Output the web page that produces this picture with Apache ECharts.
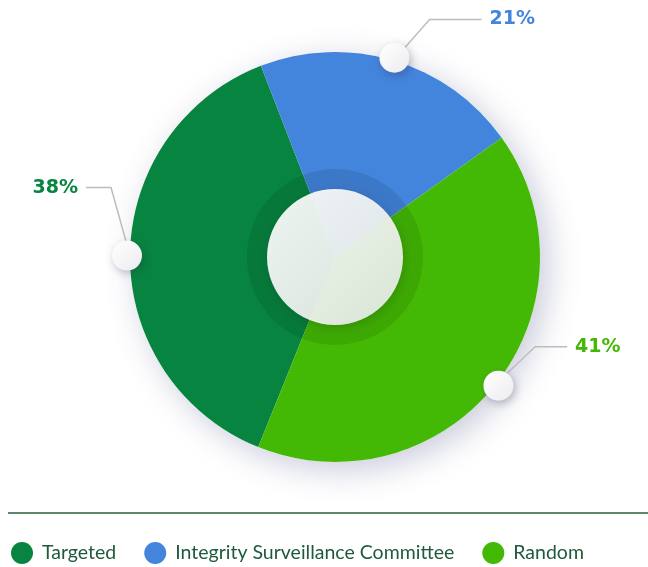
<!DOCTYPE html>
<html>
<head>
<meta charset="utf-8">
<script src="https://cdn.jsdelivr.net/npm/echarts@6/dist/echarts.min.js"></script>
<style>
  html, body { margin: 0; padding: 0; background: #fff; }
  #chart { width: 648px; height: 567px; }
</style>
</head>
<body>
<div id="chart"></div>
<script>
// 数据
var categories = ['Targeted', 'Integrity Surveillance Committee', 'Random']
var shares = [38, 21, 41]
var colors = ['#07843f', '#4384dc', '#44b905']

var center = [335, 257]
var startAngle = 248
// 引线走向（相对圆点的折点偏移 + 水平段长度）
var leaderBend = [[-19, -68], [36, -41], [39, -37]]
var leaderRun = [-25, 52, 32]

var chart = echarts.init(document.getElementById('chart'))

var mainData = categories.map(function (name, i) {
  return { name: name, value: shares[i], itemStyle: { color: colors[i] }, label: { color: colors[i] } }
})
var dotData = categories.map(function (name, i) {
  return { name: name, value: shares[i] }
})

var option = {
  animation: false,
  legend: {
    data: categories,
    left: 6,
    top: 537,
    icon: 'circle',
    itemWidth: 22,
    itemHeight: 22,
    itemGap: 28,
    selectedMode: false,
    textStyle: {
      fontFamily: 'Lato',
      fontSize: 19.5,
      color: '#1f5a3a',
      padding: [0, 0, 0, 4]
    }
  },
  graphic: [{
    type: 'line',
    shape: { x1: 8, y1: 513, x2: 648, y2: 513 },
    style: { stroke: '#2a5c3e', lineWidth: 1.5 },
    silent: true
  }],
  series: [
    { // 背景阴影
      type: 'pie',
      center: center,
      radius: 205,
      silent: true,
      z: 1,
      label: { show: false },
      labelLine: { show: false },
      itemStyle: {
        color: '#fff',
        shadowBlur: 32,
        shadowColor: 'rgba(60,70,125,0.28)',
        shadowOffsetX: 8,
        shadowOffsetY: 8
      },
      data: [{ value: 1, name: '' }]
    },
    {
      name: 'share',
      type: 'pie',
      center: center,
      radius: 205,
      startAngle: startAngle,
      clockwise: true,
      z: 2,
      silent: true,
      itemStyle: { borderWidth: 0 },
      label: {
        show: true,
        position: 'outside',
        overflow: 'none',
        formatter: function (p) { return p.value + '%' },
        fontFamily: 'DejaVu Sans',
        fontWeight: 'bold',
        fontSize: 19
      },
      labelLine: {
        show: true,
        length: 40,
        length2: 40,
        lineStyle: { color: '#bdbdbd', width: 1.5 }
      },
      labelLayout: function (p) {
        var i = p.dataIndex
        var s = p.labelLinePoints[0]
        var b = [s[0] + leaderBend[i][0], s[1] + leaderBend[i][1]]
        var e = [b[0] + leaderRun[i], b[1]]
        var left = leaderRun[i] < 0
        return {
          x: e[0] + (left ? -8 : 8),
          y: e[1],
          align: left ? 'right' : 'left',
          verticalAlign: 'middle',
          labelLinePoints: [s, b, e]
        }
      },
      data: mainData
    },
    { // 内圈暗环
      type: 'pie',
      center: center,
      radius: 88,
      silent: true,
      z: 3,
      label: { show: false },
      labelLine: { show: false },
      itemStyle: { color: 'rgba(0,0,0,0.09)' },
      data: [{ value: 1, name: '' }]
    },
    { // 中心圆
      type: 'pie',
      center: center,
      radius: 68,
      silent: true,
      z: 4,
      label: { show: false },
      labelLine: { show: false },
      itemStyle: {
        color: {
          type: 'linear', x: 0, y: 0, x2: 1, y2: 1,
          colorStops: [
            { offset: 0, color: 'rgba(252,253,252,0.94)' },
            { offset: 1, color: 'rgba(232,236,232,0.92)' }
          ]
        },
        shadowBlur: 10,
        shadowColor: 'rgba(0,0,0,0.15)',
        shadowOffsetX: 2,
        shadowOffsetY: 3
      },
      data: [{ value: 1, name: '' }]
    },
    { // 圆点
      type: 'pie',
      center: center,
      radius: [200, 210],
      startAngle: startAngle,
      clockwise: true,
      silent: true,
      z: 5,
      itemStyle: { color: 'rgba(0,0,0,0)' },
      label: {
        show: true,
        position: 'inside',
        formatter: '{dot|}',
        rich: {
          dot: {
            width: 30,
            height: 30,
            borderRadius: 15,
            backgroundColor: {
              type: 'linear', x: 0, y: 0, x2: 1, y2: 1,
              colorStops: [
                { offset: 0, color: '#ffffff' },
                { offset: 1, color: '#ececef' }
              ]
            },
            shadowBlur: 8,
            shadowColor: 'rgba(40,40,70,0.3)',
            shadowOffsetX: 2,
            shadowOffsetY: 3
          }
        }
      },
      labelLine: { show: false },
      data: dotData
    }
  ]
}
chart.setOption(option)
</script>
</body>
</html>
